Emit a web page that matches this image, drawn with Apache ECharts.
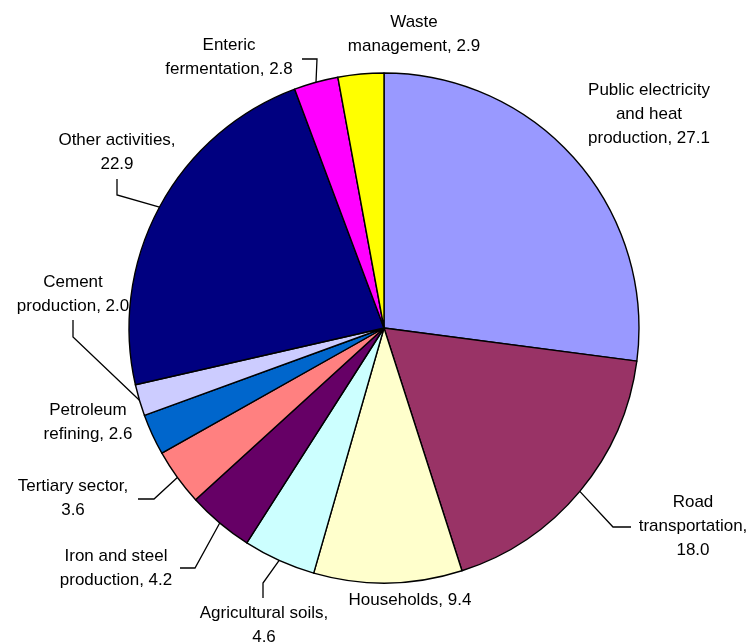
<!DOCTYPE html>
<html>
<head>
<meta charset="utf-8">
<script src="https://cdn.jsdelivr.net/npm/echarts@6/dist/echarts.min.js"></script>
<style>
  html, body { margin: 0; padding: 0; background: #fff; }
  #chart { width: 755px; height: 643px; }
</style>
</head>
<body>
<div id="chart"></div>
<script>
// Emission sources and their shares (%)
const categories = [
  'Public electricity\nand heat\nproduction',
  'Road\ntransportation,',
  'Households',
  'Agricultural soils,',
  'Iron and steel\nproduction',
  'Tertiary sector,',
  'Petroleum\nrefining',
  'Cement\nproduction',
  'Other activities,',
  'Enteric\nfermentation',
  'Waste\nmanagement'
];
const shares = [27.1, 18.0, 9.4, 4.6, 4.2, 3.6, 2.6, 2.0, 22.9, 2.8, 2.9];
// value goes on its own line for these labels, after the name
const valueOnNewLine = [false, true, false, true, false, true, false, false, true, false, false];
const colors = ['#9999FF', '#993366', '#FFFFCC', '#CCFFFF', '#660066', '#FF8080',
                '#0066CC', '#CCCCFF', '#000080', '#FF00FF', '#FFFF00'];

// Label placement: centre of each text block, plus the elbow/end of its leader line
const labelSpots = [
  { x: 649, y: 114.5 },
  { x: 693, y: 526, line: [[613, 527], [631, 527]] },
  { x: 410, y: 600 },
  { x: 264, y: 625, line: [[263, 583], [263, 598]] },
  { x: 116, y: 568, line: [[195, 568], [180, 568]] },
  { x: 73,  y: 498.5, line: [[154, 499], [138, 499]] },
  { x: 88,  y: 422 },
  { x: 73,  y: 294.5, line: [[73, 337], [73, 320]] },
  { x: 117, y: 152.5, line: [[117, 195], [117, 179]] },
  { x: 229, y: 57.5, line: [[317, 59], [302, 59]] },
  { x: 414, y: 34 }
];

const chart = echarts.init(document.getElementById('chart'), null, { renderer: 'canvas' });

const data = categories.map((name, i) => ({
  name: name,
  value: shares[i],
  itemStyle: { color: colors[i] },
  label: {
    formatter: name + (valueOnNewLine[i] ? '\n' : ', ') + shares[i].toFixed(1)
  },
  labelLine: { show: !!labelSpots[i].line }
}));

chart.setOption({
  animation: false,
  series: [{
    type: 'pie',
    center: [384, 328],
    radius: 255,
    startAngle: 90,
    clockwise: true,
    avoidLabelOverlap: false,
    emphasis: { disabled: true },
    itemStyle: { borderColor: '#000', borderWidth: 1.4 },
    label: {
      show: true,
      position: 'outside',
      color: '#000',
      fontFamily: 'Liberation Sans, Arial, sans-serif',
      fontSize: 17,
      lineHeight: 24,
      align: 'center'
    },
    labelLine: {
      show: true,
      smooth: false,
      lineStyle: { color: '#000', width: 1.3 }
    },
    labelLayout: function (params) {
      const spot = labelSpots[params.dataIndex];
      const out = {
        x: spot.x,
        y: spot.y,
        align: 'center',
        verticalAlign: 'middle'
      };
      if (spot.line && params.labelLinePoints) {
        out.labelLinePoints = [params.labelLinePoints[0], spot.line[0], spot.line[1]];
      }
      return out;
    },
    data: data
  }]
});
</script>
</body>
</html>
